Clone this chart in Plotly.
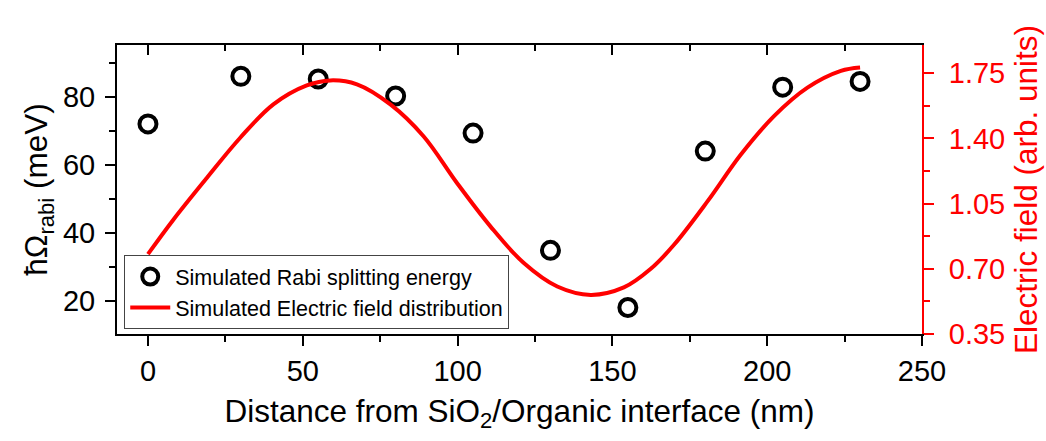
import plotly.graph_objects as go

# Rabi splitting data
distance_nm = [0, 30, 55, 80, 105, 130, 155, 180, 205, 230]
rabi_meV = [72, 86, 85.2, 80.2, 69.3, 34.8, 18, 64, 82.8, 84.5]

# Electric field curve
field_x = [0, 8.2, 19, 29.8, 40.5, 51.3, 58.9, 67.5, 78.3, 89, 99.8, 110.6, 121.4,
           132.2, 143, 153.7, 162.4, 169.9, 180.7, 191.5, 202.2, 213, 223.8, 230]
field_E = [0.779, 0.964, 1.188, 1.404, 1.583, 1.685, 1.712, 1.691, 1.583, 1.412, 1.161,
           0.928, 0.731, 0.605, 0.560, 0.600, 0.700, 0.829, 1.062, 1.314, 1.52,
           1.673, 1.763, 1.781]

x_ticks = [0, 50, 100, 150, 200, 250]
y_ticks = [20, 40, 60, 80]
y2_ticks = [0.35, 0.70, 1.05, 1.40, 1.75]

FONT = "Arial, Liberation Sans, sans-serif"
RED = "#ff0000"
TICK_SIZE = 29
TITLE_SIZE = 31.5

fig = go.Figure()
fig.add_trace(go.Scatter(
    x=distance_nm, y=rabi_meV, mode="markers",
    name="Simulated Rabi splitting energy",
    marker=dict(symbol="circle-open", size=17, color="black", line=dict(width=4, color="black")),
    yaxis="y"))
fig.add_trace(go.Scatter(
    x=field_x, y=field_E, mode="lines",
    name="Simulated Electric field distribution",
    line=dict(color=RED, width=4, shape="spline", smoothing=1.0),
    yaxis="y2"))

xr = [-10, 250]
fig.update_layout(
    width=1046, height=441,
    margin=dict(l=117, r=124, t=45, b=107),
    paper_bgcolor="white", plot_bgcolor="white",
    font=dict(family=FONT, size=TICK_SIZE, color="black"),
    showlegend=True,
    legend=dict(x=0.009, y=0.017, xanchor="left", yanchor="bottom",
                bordercolor="#444", borderwidth=1, bgcolor="white",
                font=dict(size=21.5, family=FONT), tracegroupgap=0,
                itemwidth=40),
    xaxis=dict(range=xr, tickvals=x_ticks, ticks="outside", ticklen=10, tickwidth=2,
               tickcolor="black", showline=True, linewidth=2, linecolor="black",
               showgrid=False, zeroline=False, automargin=False,
               minor=dict(dtick=25, tick0=0, ticks="outside", ticklen=6, tickwidth=2, tickcolor="black"),
               tickfont=dict(size=TICK_SIZE),
               title=dict(text="Distance from SiO<sub>2</sub>/Organic interface (nm)",
                          font=dict(size=TITLE_SIZE), standoff=14)),
    xaxis2=dict(range=xr, overlaying="x", side="top", tickvals=x_ticks, ticks="inside",
                ticklen=10, tickwidth=2, tickcolor="black", showticklabels=False,
                showline=True, linewidth=2, linecolor="black", showgrid=False, zeroline=False,
                automargin=False,
                minor=dict(dtick=25, tick0=0, ticks="inside", ticklen=6, tickwidth=2, tickcolor="black")),
    yaxis=dict(range=[10.2, 95.2], tickvals=y_ticks, ticks="outside", ticklen=10, tickwidth=2,
               tickcolor="black", showline=True, linewidth=2, linecolor="black",
               showgrid=False, zeroline=False, ticklabelstandoff=4, automargin=False,
               minor=dict(dtick=10, tick0=0, ticks="outside", ticklen=6, tickwidth=2, tickcolor="black"),
               tickfont=dict(size=TICK_SIZE),
               title=dict(text="ħΩ<sub>rabi</sub> (meV)", font=dict(size=TITLE_SIZE), standoff=6)),
    yaxis2=dict(range=[0.35, 1.902], overlaying="y", side="right", tickvals=y2_ticks,
                tickformat=".2f", ticks="outside", ticklen=10, tickwidth=2, tickcolor=RED,
                showline=True, linewidth=2, linecolor=RED, showgrid=False, zeroline=False,
                ticklabelstandoff=9, automargin=False,
                minor=dict(dtick=0.175, tick0=0.35, ticks="outside", ticklen=6, tickwidth=2, tickcolor=RED),
                tickfont=dict(size=TICK_SIZE, color=RED),
                title=dict(text="Electric field (arb. units)", font=dict(size=TITLE_SIZE, color=RED), standoff=11)),
)
# keep xaxis2 anchored to the plot with a dummy invisible trace
fig.add_trace(go.Scatter(x=[None], y=[None], xaxis="x2", showlegend=False, hoverinfo="skip"))

fig.write_html("out.html")
